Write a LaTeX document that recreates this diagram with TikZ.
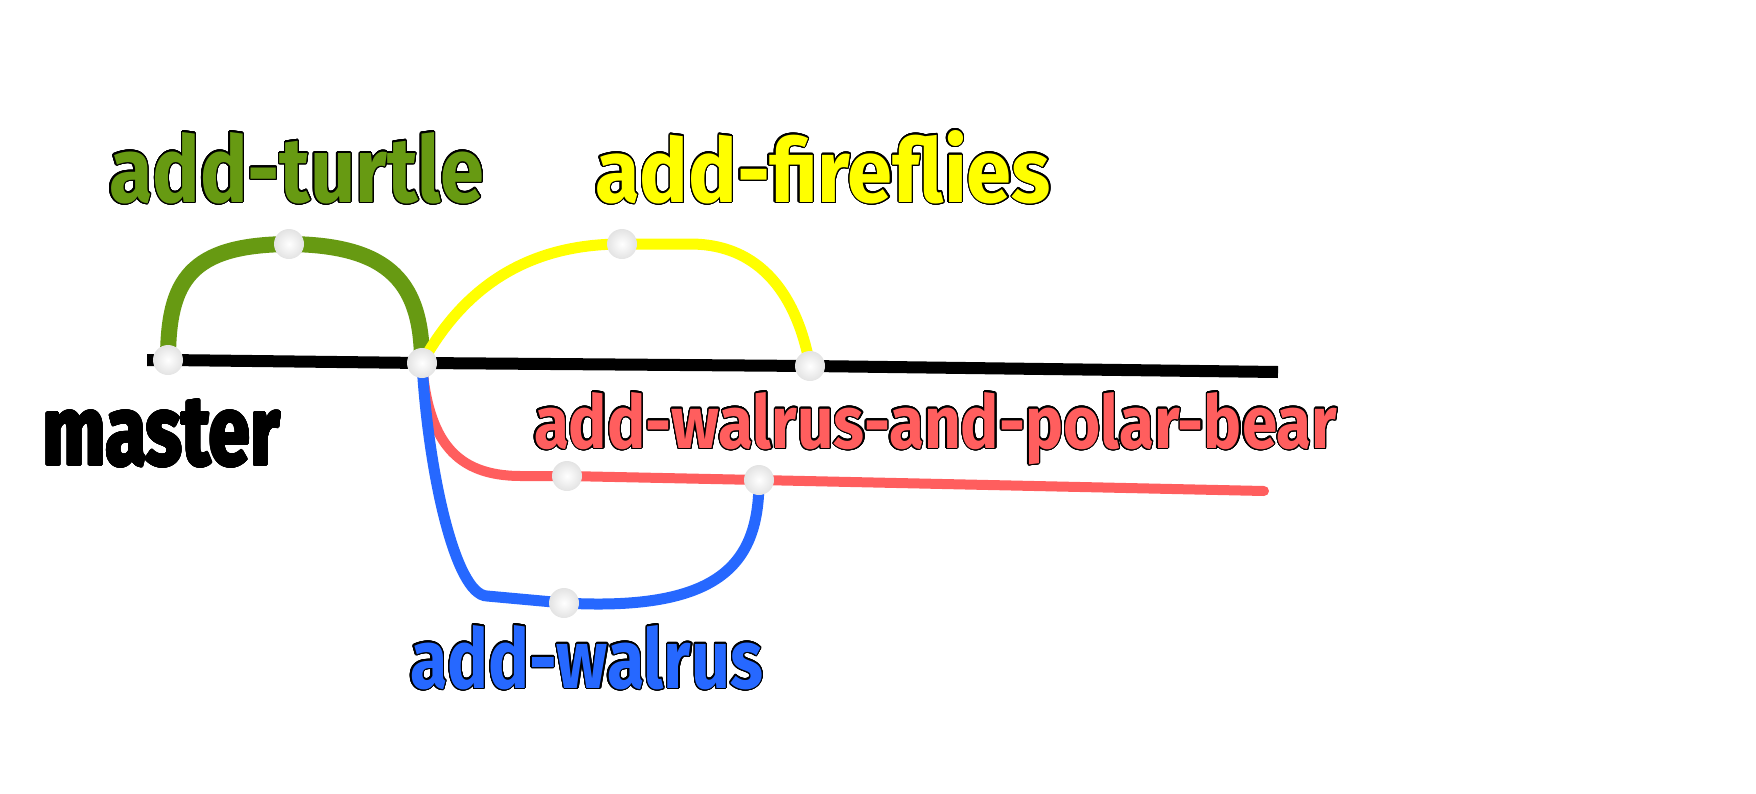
\documentclass[tikz,border=0pt]{standalone}
\usepackage{fontspec}
\setmainfont{Fira Sans}
\usepackage[copies]{contour}
\usetikzlibrary{backgrounds}
\contourlength{0.6pt}
\contournumber{32}
\definecolor{brgreen}{RGB}{103,154,18}
\definecolor{bryellow}{RGB}{255,255,0}
\definecolor{brred}{RGB}{255,94,94}
\definecolor{brblue}{RGB}{38,104,255}
\newcommand\olabel[3]{\contour{black}{\resizebox{#1}{#2}{\bfseries #3}}}
\tikzset{
  commit/.style={circle, minimum size=15pt, inner sep=0pt, draw=none,
    shading=radial, inner color=white, outer color=black!11},
  lbl/.style={anchor=base west, inner sep=0pt, outer sep=0pt},
  branch/.style={line width=5.5pt, line cap=butt},
}
\begin{document}
\begin{tikzpicture}[x=0.5pt,y=-0.5pt]
\useasboundingbox (0,0) rectangle (1756,793);
% commits
\node[commit] (m1) at (168,360) {};
\node[commit] (m2) at (422,363) {};
\node[commit] (m3) at (810,366) {};
\node[commit] (t1) at (289,244) {};
\node[commit] (f1) at (622,244) {};
\node[commit] (r1) at (567,476) {};
\node[commit] (r2) at (759,480) {};
\node[commit] (w1) at (564,603) {};
\coordinate (ms) at (147,360);
\coordinate (me) at (1278,372);
\coordinate (re) at (1264,491);
\coordinate (rb) at (521,476);
\coordinate (wb) at (487,596);
\coordinate (fb) at (690,244);
\begin{pgfonlayer}{background}
\draw[branch, black, line width=6pt] (ms) -- (m1.center) -- (m2.center) -- (m3.center) -- (me);
\draw[branch, brgreen, line width=8pt] (m1.center) .. controls (168,280) and (190,245) .. (t1.center)
   .. controls (392,245) and (422,285) .. (m2.center);
\draw[branch, bryellow] (m2.center) .. controls (465,285) and (530,244) .. (f1.center) -- (fb)
   .. controls (770,244) and (800,310) .. (m3.center);
\draw[branch, brred, line width=5pt, line cap=round] (m2.center) .. controls (428,440) and (455,476) .. (rb)
   -- (r1.center) -- (r2.center) -- (re);
\draw[branch, brblue] (m2.center) .. controls (428,470) and (455,595) .. (wb) -- (w1.center)
   .. controls (725,612) and (759,560) .. (r2.center);
\end{pgfonlayer}
% labels
\node[lbl, text=brgreen] (lturtle) at (109,202) {\olabel{187.5pt}{35pt}{add-turtle}};
\node[lbl, text=bryellow] (lfire) at (595,202) {\olabel{228pt}{36pt}{add-fireflies}};
\node[lbl, text=black] (lmaster) at (43,465) {\olabel{118.5pt}{32.5pt}{master}};
\node[lbl, text=brred] (lpolar) at (534,448) {\olabel{401.5pt}{28pt}{add-walrus-and-polar-bear}};
\node[lbl, text=brblue] (lwalrus) at (410,688) {\olabel{176.5pt}{31.5pt}{add-walrus}};
\end{tikzpicture}
\end{document}
